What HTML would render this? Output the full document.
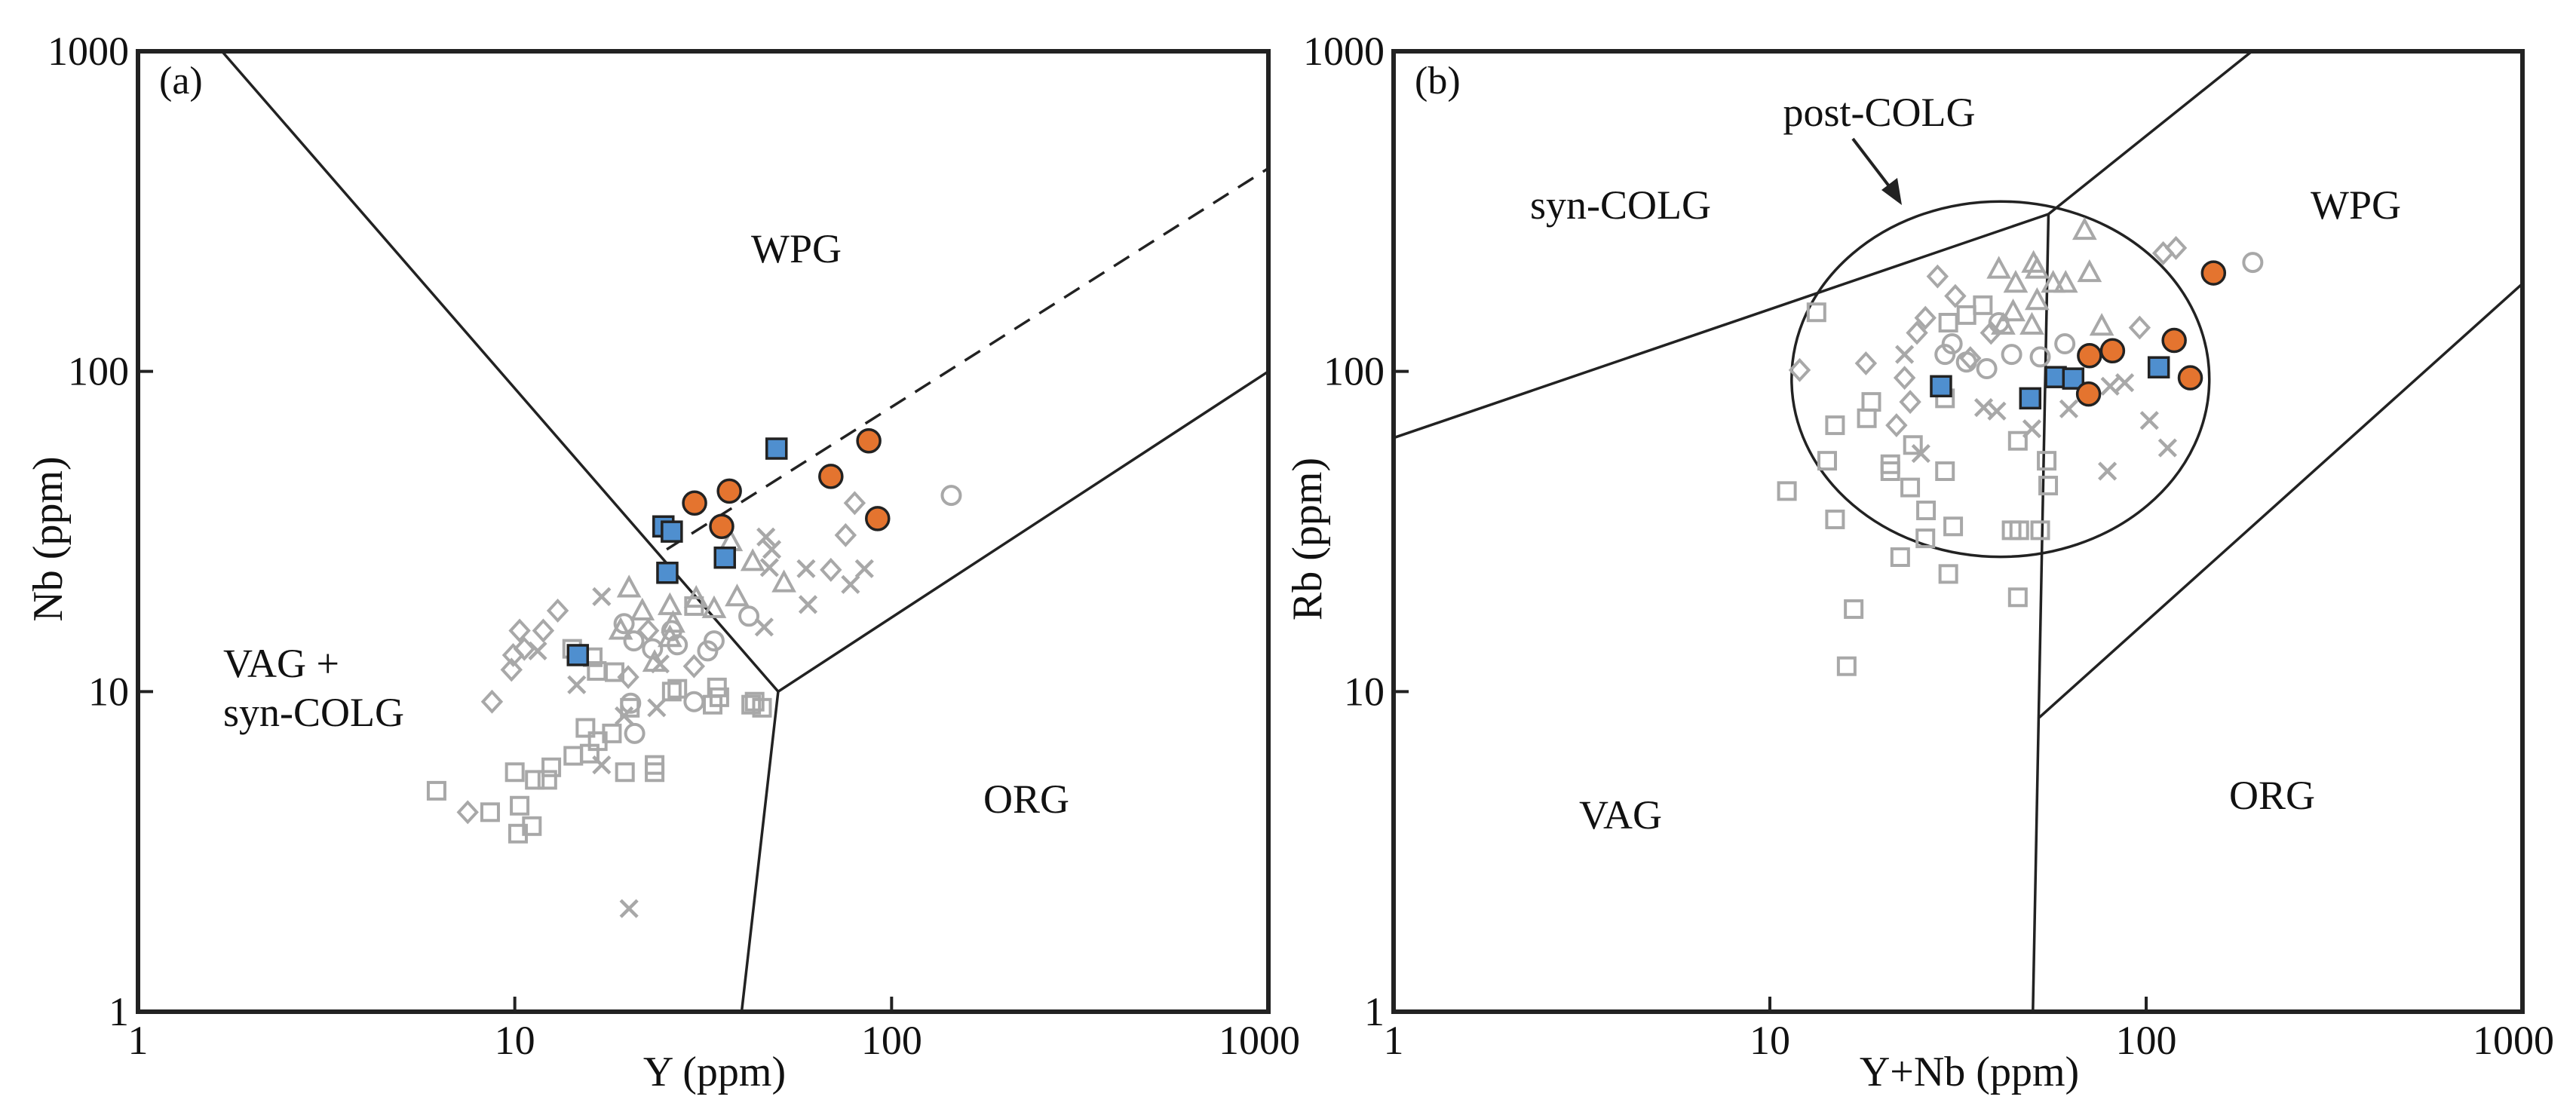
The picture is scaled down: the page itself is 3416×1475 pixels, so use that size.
<!DOCTYPE html>
<html><head><meta charset="utf-8"><style>
html,body{margin:0;padding:0;background:#fff;}
svg{display:block;}
text{font-family:"Liberation Serif",serif;fill:#111;}
</style></head>
<body>
<svg id="chart" width="3416" height="1475" viewBox="0 0 3416 1475" xmlns="http://www.w3.org/2000/svg">
<rect width="3416" height="1475" fill="#fff"/>
<g id="pa"></g>
<g id="pb"></g>
</svg>
<script>
// ---------- Panel (a) data: Y (ppm) vs Nb (ppm) ----------
const aOrangeY = [30.0, 37.1, 35.4, 69, 87, 91.8];
const aOrangeNb = [38.8, 42.3, 32.8, 47, 60.7, 34.7];
const aBlueY = [49.5, 24.8, 26.1, 25.4, 36.1, 14.7];
const aBlueNb = [57.4, 32.8, 31.6, 23.5, 26.2, 13.0];
const aSqY = [6.2,8.6,10.3,10.2,11.1,10.0,11.3,12.2,12.5,14.3,15.4,15.8,16.6,18.1,19.6,23.5,23.5,14.2,16.1,18.4,16.5,20.2,26.1,27,33.5,34.9,34.4,42.4,43.3,45.3,29.9];
const aSqNb = [4.9,4.2,4.4,3.6,3.8,5.6,5.3,5.3,5.8,6.3,7.7,6.4,7.0,7.4,5.6,5.9,5.6,13.6,12.8,11.5,11.6,8.9,10.0,10.2,9.1,9.6,10.3,9.1,9.3,8.9,18.5];
const aDiY = [7.5,8.7,9.8,9.9,10.3,11.9,13.0,10.6,79.8,75.5,69.0,20.0,29.9,22.6];
const aDiNb = [4.2,9.3,11.7,13.0,15.5,15.5,17.9,13.6,38.8,30.8,24.0,11.1,12.0,15.5];
const aXY = [17.0,14.6,17.0,20.1,11.5,23.8,46.4,48.1,47.4,59.3,60,77.8,84.7,45.9,24.3,19.5];
const aXNb = [19.8,10.5,5.9,2.1,13.4,8.9,30.4,27.8,24.4,24.2,18.7,21.6,24.2,15.9,12.2,8.4];
const aTrY = [20.1,21.8,23.5,25.8,26.3,30.3,37.4,42.8,51.8,38.9,33.8,19.1,25.8];
const aTrNb = [21.0,17.8,12.3,18.5,16.3,19.5,29.3,25.4,21.8,19.7,18.1,15.5,14.7];
const aCiY = [144,41.8,19.5,20.7,20.3,20.8,29.9,32.5,33.8,23.2,27.0,26.1];
const aCiNb = [41,17.2,16.3,14.4,9.2,7.4,9.3,13.4,14.4,13.6,14.0,15.5];
const aBoundX = [1.67, 50, 1000];
const aBoundY = [1000, 10, 100];
const aOrgX = [50, 40];
const aOrgY = [10, 1];
const aDashX = [25.3, 1000];
const aDashY = [27.8, 431];

// ---------- Panel (b) data: Y+Nb (ppm) vs Rb (ppm) ----------
const bOrangeX = [70.7, 81.4, 70.3, 118.7, 131, 151];
const bOrangeRb = [112, 116, 85, 125, 95.5, 203];
const bBlueX = [28.5, 49.2, 57.5, 64, 108];
const bBlueRb = [89.9, 82.4, 96, 95, 103];
const bSqX = [11.1,14.9,14.2,14.9,18.1,18.6,20.9,20.9,23.6,26.0,25.9,22.2,30.7,29.8,16.7,16.0,24.0,29.2,45.6,43.9,46.0,52.3,45.6,54.4,54.9,13.3,29.8,36.8,33.3,29.2];
const bSqRb = [42.3,34.5,52.6,67.9,71.4,80.3,51.3,48.8,43.4,36.8,30.1,26.3,32.8,23.3,18.1,12.0,58.9,48.8,60.7,31.9,31.9,31.9,19.7,52.6,44.0,153,142,161,150,82.4];
const bDiX = [12.0,18.0,21.7,23.6,22.8,24.6,25.9,27.9,31.1,96.1,111,120,34.1,38.7];
const bDiRb = [101,106,67.9,80.3,95.5,132,147,198,172,137,234,243,110,132];
const bXX = [22.8,25.2,37.0,40.1,62.3,78.9,87.7,102,114,49.7,80.2];
const bXRb = [113,55.4,77.1,75.2,76.4,48.8,92.2,70.3,57.7,66.2,89.9];
const bTrX = [40.6,50.2,51.3,45.0,56.6,61.1,68.6,70.7,76.2,51.3,49.7,44.3,41.7];
const bTrRb = [208,217,208,188,188,188,275,203,138,166,139,153,139];
const bCiX = [30.5,60.8,192,52.3,33.3,37.7,43.9,40.6,29.2];
const bCiRb = [122,122,219,111,107,102,113,142,113];
const bSynX = [1, 55];
const bSynY = [62, 310];
const bWpgX = [55, 191];
const bWpgY = [310, 1000];
const bVagX = [55, 50];
const bVagY = [310, 1];
const bOrgX = [52, 1000];
const bOrgY = [8.3, 188];
const bPostCenter = [41, 94.6];
const bPostRadiusDecades = [0.555];

const tickValues = [1, 10, 100, 1000];
const tickLabels = ["1", "10", "100", "1000"];

const NS = "http://www.w3.org/2000/svg";
const GREY = "#a8a8a8";
const FS = 54;
function mk(tag, attrs, parent) {
  const e = document.createElementNS(NS, tag);
  for (const k in attrs) e.setAttribute(k, attrs[k]);
  parent.appendChild(e);
  return e;
}
function axes(left, right, top, bottom) {
  return {
    x: v => left + (Math.log10(v)) / 3 * (right - left),
    y: v => bottom - (Math.log10(v)) / 3 * (bottom - top),
    left, right, top, bottom
  };
}
function txt(parent, x, y, s, size, anchor, name) {
  const t = mk("text", {x: x, y: y, "font-size": size, "text-anchor": anchor || "start"}, parent);
  t.textContent = s;
  
  
  return t;
}
function frame(g, ax, xTitle, yTitle, letter, yTitleX) {
  const r = mk("rect", {x: ax.left, y: ax.top, width: ax.right - ax.left, height: ax.bottom - ax.top, fill: "none", stroke: "#222", "stroke-width": 6}, g);
  
  
  tickValues.forEach((v, i) => {
    const xt = mk("line", {x1: ax.x(v), x2: ax.x(v), y1: ax.bottom, y2: ax.bottom - 20, stroke: "#222", "stroke-width": 4}, g);
    
    
    const yt = mk("line", {x1: ax.left, x2: ax.left + 20, y1: ax.y(v), y2: ax.y(v), stroke: "#222", "stroke-width": 4}, g);
    
    
    let xx = ax.x(v);
    if (i === 3) { xx = ax.x(v) - 12; }
    txt(g, xx, ax.bottom + 56, tickLabels[i], FS, "middle", 'x-tick-label');
    txt(g, ax.left - 12, ax.y(v) + 18, tickLabels[i], FS, "end", 'y-tick-label');
  });
  txt(g, (ax.left + ax.right) / 2 + 15, ax.bottom + 98, xTitle, FS + 2, "middle", 'x-axis-title');
  const yt = txt(g, 0, 0, yTitle, FS + 2, "middle", 'y-axis-title');
  yt.setAttribute("transform", "translate(" + yTitleX + "," + ((ax.top + ax.bottom) / 2 + 10) + ") rotate(-90)");
  txt(g, ax.left + 28, ax.top + 56, letter, 52, "start", 'panel-label');
}
function poly(g, ax, xs, ys, name, dash) {
  const pts = xs.map((x, i) => ax.x(x) + "," + ax.y(ys[i])).join(" ");
  const p = mk("polyline", {points: pts, fill: "none", stroke: "#222", "stroke-width": 3.5}, g);
  if (dash) p.setAttribute("stroke-dasharray", "24,15");
  
  
}
function marker(g, type, cx, cy, name) {
  let e;
  const s = 11;
  if (type === "sq") e = mk("rect", {x: cx - s, y: cy - s, width: 2 * s, height: 2 * s, fill: "none", stroke: GREY, "stroke-width": 4}, g);
  else if (type === "di") e = mk("polygon", {points: `${cx},${cy - 13} ${cx + 12},${cy} ${cx},${cy + 13} ${cx - 12},${cy}`, fill: "none", stroke: GREY, "stroke-width": 4}, g);
  else if (type === "x") e = mk("path", {d: `M${cx - 11},${cy - 11}L${cx + 11},${cy + 11}M${cx + 11},${cy - 11}L${cx - 11},${cy + 11}`, stroke: GREY, "stroke-width": 4.5, fill: "none"}, g);
  else if (type === "tr") e = mk("polygon", {points: `${cx},${cy - 14} ${cx + 13},${cy + 10} ${cx - 13},${cy + 10}`, fill: "none", stroke: GREY, "stroke-width": 4}, g);
  else if (type === "ci") e = mk("circle", {cx: cx, cy: cy, r: 12, fill: "none", stroke: GREY, "stroke-width": 4}, g);
  else if (type === "or") e = mk("circle", {cx: cx, cy: cy, r: 15, fill: "#e4742f", stroke: "#222", "stroke-width": 3.5}, g);
  else if (type === "bl") e = mk("rect", {x: cx - 13, y: cy - 13, width: 26, height: 26, fill: "#4f8fcf", stroke: "#222", "stroke-width": 3.5}, g);
  
  
}
function series(g, ax, xs, ys, type, name) {
  xs.forEach((x, i) => marker(g, type, ax.x(x), ax.y(ys[i]), name));
}

// ---------- Draw panel a ----------
const ga = document.getElementById("pa");
const A = axes(183, 1682, 68, 1342);
frame(ga, A, "Y (ppm)", "Nb (ppm)", "(a)", 82);
poly(ga, A, aBoundX, aBoundY, 'vag-wpg-org-boundary');
poly(ga, A, aOrgX, aOrgY, 'vag-org-boundary');
poly(ga, A, aDashX, aDashY, 'dashed-boundary', true);
txt(ga, 1056, 348, "WPG", FS, "middle", 'region-label-wpg');
txt(ga, 296, 898, "VAG +", FS, "start", 'region-label-vag');
txt(ga, 296, 963, "syn-COLG", FS, "start", 'region-label-syn-colg');
txt(ga, 1361, 1078, "ORG", FS, "middle", 'region-label-org');
series(ga, A, aSqY, aSqNb, "sq", 'grey-square-point');
series(ga, A, aDiY, aDiNb, "di", 'grey-diamond-point');
series(ga, A, aXY, aXNb, "x", 'grey-cross-point');
series(ga, A, aTrY, aTrNb, "tr", 'grey-triangle-point');
series(ga, A, aCiY, aCiNb, "ci", 'grey-circle-point');
series(ga, A, aBlueY, aBlueNb, "bl", 'blue-square-sample');
series(ga, A, aOrangeY, aOrangeNb, "or", 'orange-circle-sample');

// ---------- Draw panel b ----------
const gb = document.getElementById("pb");
const B = axes(1848, 3345, 68, 1342);
frame(gb, B, "Y+Nb (ppm)", "Rb (ppm)", "(b)", 1752);
poly(gb, B, bSynX, bSynY, 'syn-colg-boundary');
poly(gb, B, bWpgX, bWpgY, 'wpg-boundary');
poly(gb, B, bVagX, bVagY, 'vag-boundary');
poly(gb, B, bOrgX, bOrgY, 'org-boundary');
const pc = mk("ellipse", {
  cx: B.x(bPostCenter[0]), cy: B.y(bPostCenter[1]),
  rx: bPostRadiusDecades[0] / 3 * (B.right - B.left),
  ry: bPostRadiusDecades[0] / 3 * (B.bottom - B.top),
  fill: "none", stroke: "#222", "stroke-width": 3.5
}, gb);


const ar = mk("line", {x1: 2457, y1: 184, x2: 2512, y2: 256, stroke: "#222", "stroke-width": 4}, gb);


const ah = mk("polygon", {points: "2522,272 2495,252 2516,236", fill: "#222"}, gb);


txt(gb, 2492, 167, "post-COLG", FS, "middle", 'region-label-post-colg');
txt(gb, 2149, 290, "syn-COLG", FS, "middle", 'region-label-syn-colg');
txt(gb, 3124, 290, "WPG", FS, "middle", 'region-label-wpg');
txt(gb, 2149, 1099, "VAG", FS, "middle", 'region-label-vag');
txt(gb, 3013, 1073, "ORG", FS, "middle", 'region-label-org');
series(gb, B, bSqX, bSqRb, "sq", 'grey-square-point');
series(gb, B, bDiX, bDiRb, "di", 'grey-diamond-point');
series(gb, B, bXX, bXRb, "x", 'grey-cross-point');
series(gb, B, bTrX, bTrRb, "tr", 'grey-triangle-point');
series(gb, B, bCiX, bCiRb, "ci", 'grey-circle-point');
series(gb, B, bBlueX, bBlueRb, "bl", 'blue-square-sample');
series(gb, B, bOrangeX, bOrangeRb, "or", 'orange-circle-sample');
</script>
</body></html>
